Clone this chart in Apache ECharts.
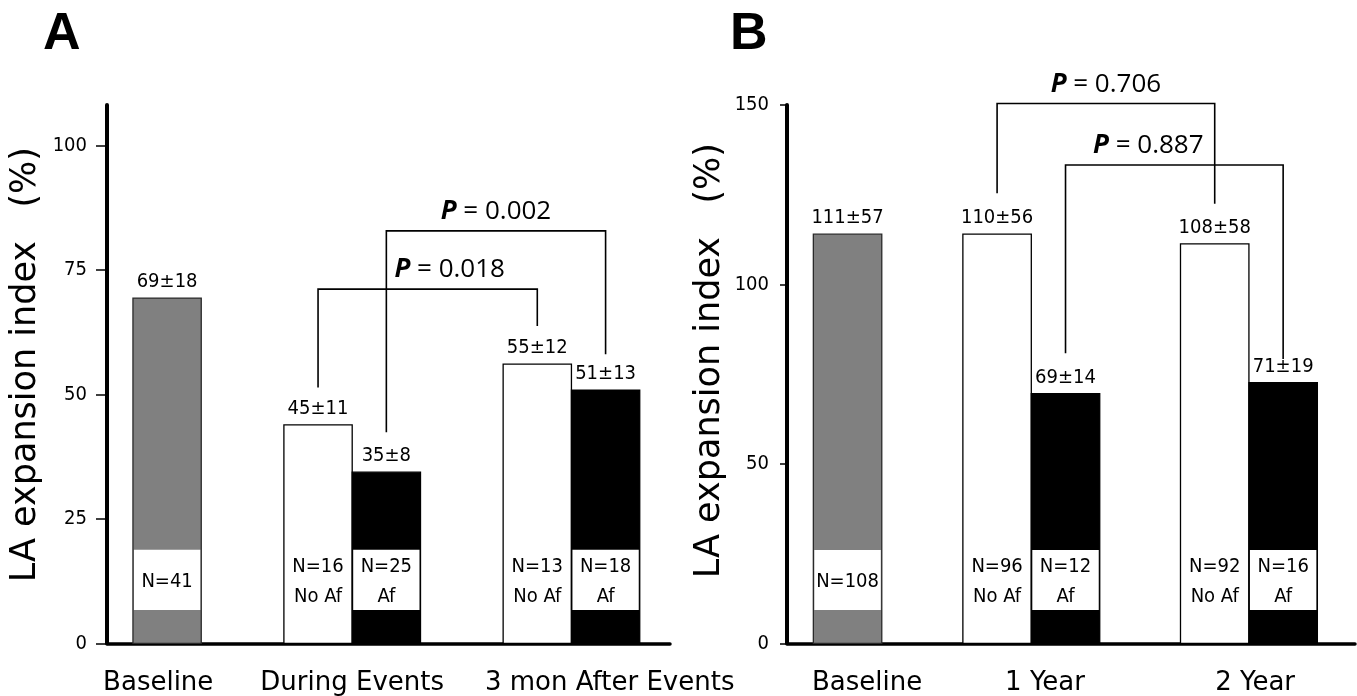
<!DOCTYPE html>
<html><head><meta charset="utf-8">
<script src="https://cdn.jsdelivr.net/npm/echarts@6/dist/echarts.min.js"></script>
<style>html,body{margin:0;padding:0;background:#fff}#c{width:1357px;height:696px}</style>
</head><body><div id="c"></div>
<script>
// ---------------- data (panel A) ----------------
const categoriesA = ['Baseline', 'During Events', '3 mon After Events'];
const baselineA = [69.4, null, null];
const noAfA = [null, 43.9, 56.1];
const afA = [null, 34.4, 50.9];
const meanBaselineA = ['69±18', '', ''];
const meanNoAfA = ['', '45±11', '55±12'];
const meanAfA = ['', '35±8', '51±13'];
const nBaselineA = ['N=41', '', ''];
const nNoAfA = ['', 'N=16', 'N=13'];
const nAfA = ['', 'N=25', 'N=18'];
const bandA = [6.7, 18.8];
const yTicksA = [0, 25, 50, 75, 100];
const pTextA = ['0.018', '0.002'];
const pFromA = [[1, 0], [1, 1]];   // [category, 0 = No Af / 1 = Af]
const pToA = [[2, 0], [2, 1]];
const pTopA = [71.2, 82.9];
const pLegA = [[51.4, 63.8], [42.4, 58.1]];

// ---------------- data (panel B) ----------------
const categoriesB = ['Baseline', '1 Year', '2 Year'];
const baselineB = [114.0, null, null];
const noAfB = [null, 114.0, 111.3];
const afB = [null, 69.6, 72.6];
const meanBaselineB = ['111±57', '', ''];
const meanNoAfB = ['', '110±56', '108±58'];
const meanAfB = ['', '69±14', '71±19'];
const nBaselineB = ['N=108', '', ''];
const nNoAfB = ['', 'N=96', 'N=92'];
const nAfB = ['', 'N=12', 'N=16'];
const bandB = [9.3, 26.0];
const yTicksB = [0, 50, 100, 150];
const pTextB = ['0.706', '0.887'];
const pFromB = [[1, 0], [1, 1]];
const pToB = [[2, 0], [2, 1]];
const pTopB = [150.4, 133.3];
const pLegB = [[125.4, 122.5], [80.8, 79.2]];

// ---------------- layout ----------------
const centersA = [0.88, 3.59, 6.80];
const labelPosA = [0.75, 3.59, 7.36];
const xMaxA = 8.243, yMaxA = 108.2;
const pDxA = [22, 0];
const centersB = [0.885, 3.57, 6.75];
const labelPosB = [1.17, 3.77, 6.84];
const xMaxB = 8.30, yMaxB = 150;
const pDxB = [0, -26];

const SMALL = '20px "DejaVu Sans Condensed"';

function buildBars(centers, base, noAf, af, mB, mN, mA, nB, nN, nA) {
  const bars = [];
  centers.forEach((c, i) => {
    if (base[i] != null) bars.push({x: c, v: base[i], kind: 'base', mean: mB[i], n: nB[i]});
    if (noAf[i] != null) bars.push({x: c - 0.5, v: noAf[i], kind: 'noaf', mean: mN[i], n: nN[i] + '\nNo Af'});
    if (af[i] != null) bars.push({x: c + 0.5, v: af[i], kind: 'af', mean: mA[i], n: nA[i] + '\nAf'});
  });
  return bars;
}
const barsA = buildBars(centersA, baselineA, noAfA, afA, meanBaselineA, meanNoAfA, meanAfA, nBaselineA, nNoAfA, nAfA);
const barsB = buildBars(centersB, baselineB, noAfB, afB, meanBaselineB, meanNoAfB, meanAfB, nBaselineB, nNoAfB, nAfB);

function barRenderer(bars, band) {
  return function (params, api) {
    const b = bars[params.dataIndex];
    const top = api.coord([b.x, b.v]);
    const bot = api.coord([b.x, 0]);
    const w = api.size([1, 0])[0];
    const x0 = top[0] - w / 2;
    const fill = b.kind === 'base' ? '#808080' : (b.kind === 'af' ? '#000' : '#fff');
    const stroke = b.kind === 'base' ? '#2a2a2a' : '#000';
    const hi = api.coord([b.x, band[1]])[1];
    const lo = api.coord([b.x, band[0]])[1];
    const ch = [{type: 'rect', shape: {x: x0, y: top[1], width: w, height: bot[1] - top[1]},
                 style: {fill: fill, stroke: stroke, lineWidth: 1.3}}];
    if (b.kind !== 'noaf') {
      ch.push({type: 'rect', shape: {x: x0 + 1, y: hi, width: w - 2, height: lo - hi}, style: {fill: '#fff'}});
    }
    ch.push({type: 'text', style: {text: b.n, x: top[0], y: (hi + lo) / 2 + 1.5, align: 'center',
             verticalAlign: 'middle', font: SMALL, lineHeight: 30, fill: '#000'}});
    ch.push({type: 'text', style: {text: b.mean, x: top[0], y: top[1] - 16, align: 'center',
             verticalAlign: 'middle', font: SMALL, fill: '#000'}});
    return {type: 'group', children: ch};
  };
}

function bracketRenderer(centers, from, to, topv, legs, texts, dx) {
  return function (params, api) {
    const i = params.dataIndex;
    const xl = centers[from[i][0]] + (from[i][1] ? 0.5 : -0.5);
    const xr = centers[to[i][0]] + (to[i][1] ? 0.5 : -0.5);
    const p1 = api.coord([xl, legs[i][0]]);
    const p2 = api.coord([xl, topv[i]]);
    const p3 = api.coord([xr, topv[i]]);
    const p4 = api.coord([xr, legs[i][1]]);
    return {type: 'group', children: [
      {type: 'polyline', shape: {points: [p1, p2, p3, p4]}, style: {stroke: '#000', lineWidth: 1.6, fill: null}},
      {type: 'text', style: {
        text: '{i|P} = ' + texts[i],
        x: (p2[0] + p3[0]) / 2 + dx[i], y: p2[1] - 19, align: 'center', verticalAlign: 'middle',
        fontSize: 26, fontFamily: 'Open Sans', fill: '#000',
        rich: {i: {fontStyle: 'italic', fontWeight: 'bold', fontSize: 26, fontFamily: 'Open Sans', fill: '#000'}}
      }}
    ]};
  };
}

function xAxisDef(grid, max, labelPos, cats) {
  return {
    gridIndex: grid, type: 'value', min: 0, max: max,
    axisLine: {show: true, onZero: false, lineStyle: {color: '#000', width: 3.5}},
    axisTick: {show: false}, splitLine: {show: false},
    axisLabel: {
      customValues: labelPos, margin: 27, fontSize: 26, fontFamily: 'DejaVu Sans', color: '#000',
      formatter: function (v) {
        const k = labelPos.findIndex(p => Math.abs(p - v) < 1e-6);
        return k >= 0 ? cats[k] : '';
      }
    }
  };
}
function yAxisDef(grid, max, ticks, tickLen, labelMargin, nameGap, namePad) {
  return {
    gridIndex: grid, type: 'value', min: 0, max: max,
    axisLine: {show: true, lineStyle: {color: '#000', width: 4}},
    axisTick: {show: true, length: tickLen, customValues: ticks, lineStyle: {color: '#000', width: 1.5}},
    axisLabel: {customValues: ticks, margin: labelMargin, fontSize: 20, fontFamily: 'DejaVu Sans Condensed', color: '#000'},
    splitLine: {show: false},
    name: 'LA expansion index   (%)', nameLocation: 'middle', nameGap: nameGap,
    nameTextStyle: {fontSize: 35, fontFamily: 'DejaVu Sans', color: '#000', padding: [0, 0, 0, namePad]}
  };
}

const chart = echarts.init(document.getElementById('c'), null, {renderer: 'canvas'});
chart.setOption({
  backgroundColor: '#fff',
  animation: false,
  title: [
    {text: 'A', left: 43, top: 9, padding: 0, textStyle: {fontSize: 52, fontWeight: 'bold', fontFamily: 'Liberation Sans', color: '#000'}},
    {text: 'B', left: 730, top: 9, padding: 0, textStyle: {fontSize: 52, fontWeight: 'bold', fontFamily: 'Liberation Sans', color: '#000'}}
  ],
  grid: [
    {left: 107, top: 105, width: 563, height: 538.3, outerBoundsMode: 'none'},
    {left: 787, top: 105, width: 568, height: 538.3, outerBoundsMode: 'none'}
  ],
  xAxis: [xAxisDef(0, xMaxA, labelPosA, categoriesA), xAxisDef(1, xMaxB, labelPosB, categoriesB)],
  yAxis: [yAxisDef(0, yMaxA, yTicksA, 11, 20, 64, 19), yAxisDef(1, yMaxB, yTicksB, 7, 18, 60, 27)],
  series: [
    {type: 'custom', xAxisIndex: 0, yAxisIndex: 0, clip: false, renderItem: barRenderer(barsA, bandA),
     data: barsA.map(b => [b.x, b.v])},
    {type: 'custom', xAxisIndex: 0, yAxisIndex: 0, clip: false,
     renderItem: bracketRenderer(centersA, pFromA, pToA, pTopA, pLegA, pTextA, pDxA),
     data: pTopA.map((t, i) => [centersA[pFromA[i][0]], t])},
    {type: 'custom', xAxisIndex: 1, yAxisIndex: 1, clip: false, renderItem: barRenderer(barsB, bandB),
     data: barsB.map(b => [b.x, b.v])},
    {type: 'custom', xAxisIndex: 1, yAxisIndex: 1, clip: false,
     renderItem: bracketRenderer(centersB, pFromB, pToB, pTopB, pLegB, pTextB, pDxB),
     data: pTopB.map((t, i) => [centersB[pFromB[i][0]], t])}
  ]
});
</script></body></html>
